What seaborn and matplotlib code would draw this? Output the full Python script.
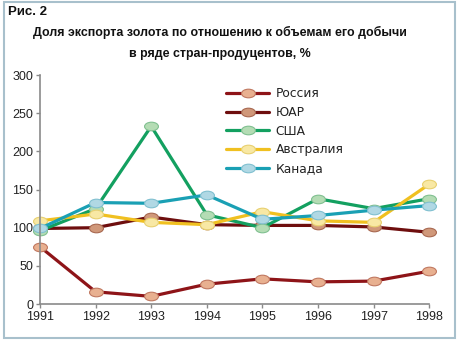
import numpy as np
import pandas as pd
import matplotlib
matplotlib.use("Agg")
import matplotlib.pyplot as plt
from matplotlib.path import Path
from matplotlib.transforms import Affine2D
from matplotlib.patches import Rectangle
import seaborn as sns

years = [1991, 1992, 1993, 1994, 1995, 1996, 1997, 1998]
russia = [75, 16, 10, 26, 33, 29, 30, 43]
sa = [99, 100, 114, 104, 103, 103, 101, 94]
usa = [96, 125, 233, 117, 100, 138, 125, 138]
australia = [109, 118, 107, 104, 121, 109, 107, 157]
canada = [99, 133, 132, 143, 111, 116, 123, 129]

series_names = ["Россия", "ЮАР", "США", "Австралия", "Канада"]
series_values = [russia, sa, usa, australia, canada]
line_colors = ["#8E1418", "#6E0E0E", "#13A060", "#F0C020", "#1AA0B4"]
face_colors = ["#E8B090", "#D0987A", "#B4DCB4", "#F8E8A4", "#B0D8E4"]
edge_colors = ["#C07860", "#A86850", "#80C090", "#E8D070", "#80C0D0"]

sns.set_style("white")
plt.rcParams["font.family"] = ["Liberation Sans", "DejaVu Sans"]

ell = Path.unit_circle().transformed(Affine2D().scale(1.0, 0.62))

fig = plt.figure(figsize=(4.6, 3.43), dpi=100)
ax = fig.add_axes([0.087, 0.1137, 0.846, 0.6673])

df = pd.DataFrame({"year": years})
for name, vals, lc, fc, ec in zip(series_names, series_values, line_colors, face_colors, edge_colors):
    df[name] = vals
    sns.lineplot(x="year", y=name, data=df, ax=ax, color=lc, linewidth=2.3,
                 marker=ell, markersize=10, markerfacecolor=fc, markeredgecolor=ec,
                 markeredgewidth=0.8, label=name)

ax.set_xlim(1991, 1998)
ax.set_ylim(0, 300)
ax.set_xticks(years)
ax.set_xticklabels([str(y) for y in years])
ax.set_yticks([0, 50, 100, 150, 200, 250, 300])
ax.set_xlabel("")
ax.set_ylabel("")
for s in ["top", "right"]:
    ax.spines[s].set_visible(False)
for s in ["left", "bottom"]:
    ax.spines[s].set_color("#8a8a8a")
    ax.spines[s].set_linewidth(1.2)
ax.tick_params(axis="both", which="both", direction="out", length=3, width=1,
               color="#8a8a8a", labelsize=9, labelcolor="#222222", pad=2, left=True, bottom=True)
for lab in ax.get_xticklabels() + ax.get_yticklabels():
    lab.set_clip_on(False)
for ln in ax.get_lines():
    ln.set_clip_on(False)

leg = ax.legend(loc="upper left", bbox_to_anchor=(0.466, 0.968), frameon=False,
                prop={"family": "DejaVu Sans", "size": 8.8},
                handlelength=3.5, handletextpad=0.55, labelspacing=0.46,
                borderaxespad=0)
for t in leg.get_texts():
    t.set_color("#222222")

fig.text(0.018, 0.965, "Рис. 2", fontsize=9.5, fontweight="bold", ha="left", va="center", color="#111111")
fig.text(0.478, 0.905, "Доля экспорта золота по отношению к объемам его добычи",
         fontsize=8.9, fontweight="bold", ha="center", va="center", color="#111111")
fig.text(0.478, 0.844, "в ряде стран-продуцентов, %",
         fontsize=8.9, fontweight="bold", ha="center", va="center", color="#111111")

fig.patches.append(Rectangle((0.009, 0.015), 0.98, 0.98, transform=fig.transFigure,
                             fill=False, edgecolor="#A8C0CC", linewidth=1.5))

fig.savefig("out.png", dpi=100)
